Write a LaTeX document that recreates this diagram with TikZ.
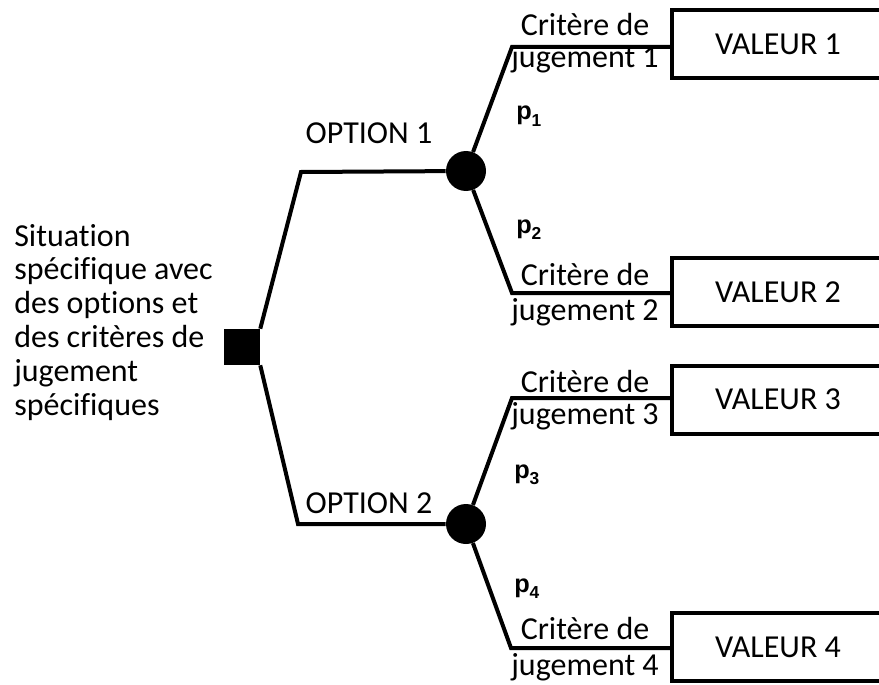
\documentclass[tikz,border=0pt]{standalone}
\usepackage{fontspec}
\setmainfont{Carlito}[Ligatures={NoCommon}]
\newfontfamily\pfont{Liberation Sans}
\begin{document}
\begin{tikzpicture}[x=0.75pt,y=-0.75pt,
  branch/.style={line width=3pt},
  valbox/.style={draw, line width=3pt, minimum width=180pt, minimum height=51pt, anchor=west, inner sep=0pt, font=\fontsize{24}{28}\selectfont},
  lbl/.style={font=\fontsize{24}{28}\selectfont, inner sep=0pt, anchor=base},
  plbl/.style={font=\pfont\bfseries\fontsize{19}{19}\selectfont, inner sep=0pt, anchor=base west},
  decision/.style={rectangle, fill=black, minimum size=27pt, inner sep=0pt},
  chance/.style={circle, fill=black, minimum size=30pt, inner sep=0pt},
]
\useasboundingbox (0,0) rectangle (879,685);
\clip (0,0) rectangle (879,685);

% left text
\node[font=\fontsize{24}{25.35}\selectfont, align=left, inner sep=0pt, anchor=base west] (sit) at (14,415)
  {Situation\\spécifique avec\\des options et\\des critères de\\jugement\\spécifiques};

% nodes
\node[decision] (sq) at (242,347) {};
\node[chance] (c1) at (466,171) {};
\node[chance] (c2) at (466,524) {};

\coordinate (a1) at (301,172);
\coordinate (a2) at (298,524);
\coordinate (b1) at (512,47);
\coordinate (b2) at (512,293);
\coordinate (b3) at (512,398);
\coordinate (b4) at (511,648);

\node[valbox] (v1) at (670,44) {VALEUR 1\kern21pt};
\node[valbox] (v2) at (670,292) {VALEUR 2\kern21pt};
\node[valbox] (v3) at (670,399.5) {VALEUR 3\kern21pt};
\node[valbox] (v4) at (670,647) {VALEUR 4\kern21pt};

% connectors
\draw[branch, line join=miter] (sq.north east) -- (a1) -- (c1);
\draw[branch, line join=miter] (sq.south east) -- (a2) -- (c2);
\draw[branch, line join=miter] (c1) -- (b1) -- (b1 -| v1.west);
\draw[branch, line join=miter] (c1) -- (b2) -- (b2 -| v2.west);
\draw[branch, line join=miter] (c2) -- (b3) -- (b3 -| v3.west);
\draw[branch, line join=miter] (c2) -- (b4) -- (b4 -| v4.west);

% option labels
\node[lbl] (o1) at (369,143) {OPTION 1};
\node[lbl] (o2) at (369,513) {OPTION 2};

% criteria labels
\node[lbl] (k1a) at (585,36) {Critère de};
\node[lbl] (k1b) at (585,68) {jugement 1};
\node[lbl] (k2a) at (585,285) {Critère de};
\node[lbl] (k2b) at (585,320) {jugement 2};
\node[lbl] (k3a) at (585,392) {Critère de};
\node[lbl] (k3b) at (585,424) {jugement 3};
\node[lbl] (k4a) at (585,639) {Critère de};
\node[lbl] (k4b) at (585,675) {jugement 4};

% probabilities
\node[plbl] (p1) at (516,120) {p\raisebox{-0.25em}{\fontsize{13}{13}\selectfont 1}};
\node[plbl] (p2) at (516,233) {p\raisebox{-0.25em}{\fontsize{13}{13}\selectfont 2}};
\node[plbl] (p3) at (514,478) {p\raisebox{-0.25em}{\fontsize{13}{13}\selectfont 3}};
\node[plbl] (p4) at (514,592) {p\raisebox{-0.25em}{\fontsize{13}{13}\selectfont 4}};
\end{tikzpicture}
\end{document}
